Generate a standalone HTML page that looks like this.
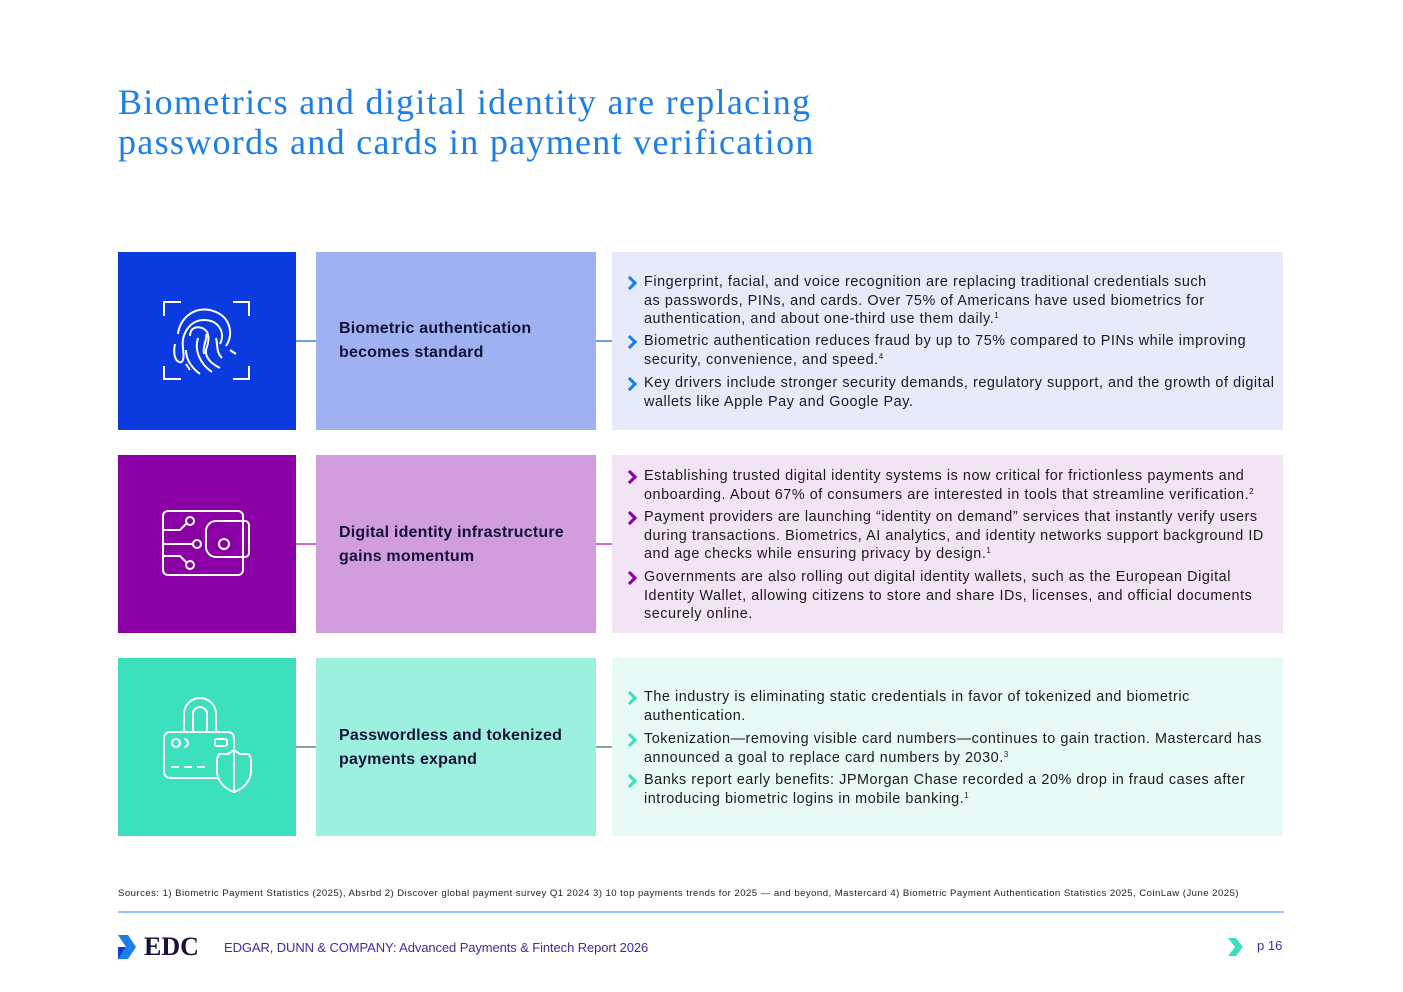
<!DOCTYPE html>
<html><head><meta charset="utf-8"><style>
*{margin:0;padding:0;box-sizing:border-box}
body{width:1403px;height:992px;background:#fff;position:relative;font-family:"Liberation Sans",sans-serif;overflow:hidden}
.t{position:absolute;left:118px;top:82px;font-family:"Liberation Serif",serif;font-size:36px;line-height:40px;color:#1a7fe8;letter-spacing:1.3px;white-space:nowrap}
.b{position:absolute}
.lab{position:absolute;font-weight:bold;font-size:16px;line-height:24px;color:#12123a;left:339px;letter-spacing:0.2px}
.ln{position:absolute;height:1.5px}
.bl{position:absolute;left:644px;font-size:14.4px;line-height:18.5px;color:#1a1a1a;white-space:nowrap;letter-spacing:0.55px}
.bl::before{content:"";position:absolute;left:-19px;top:5px;width:7px;height:7px;border-top:3px solid var(--c);border-right:3px solid var(--c);transform:rotate(45deg)}
sup{font-size:8px;vertical-align:5px;line-height:0}
</style></head><body>
<div class="t">Biometrics and digital identity are replacing<br>passwords and cards in payment verification</div>

<!-- row1 -->
<div class="b" style="left:118px;top:252px;width:178px;height:178px;background:#0b3adf"></div>
<div class="b" style="left:316px;top:252px;width:280px;height:178px;background:#9fb1f0"></div>
<div class="b" style="left:612px;top:252px;width:671px;height:178px;background:#e6eafb"></div>
<div class="ln" style="left:296px;width:20px;top:340px;background:#6aa0ee"></div>
<div class="ln" style="left:596px;width:16px;top:340px;background:#6aa0ee"></div>
<div class="lab" style="top:317px">Biometric authentication<br>becomes standard</div>
<svg class="b" style="left:160px;top:298px" width="94" height="86" viewBox="0 0 94 86" fill="none" stroke="#fff" stroke-width="2">
<path d="M4 18V4h17M73 4h16v14M4 68v13h17M73 81h16V68"/>
<path d="M18 36C20 18 38 6 56 14C70 20 74 36 66 48"/>
<path d="M15 46C13 56 15 62 19 64C24 66 24 58 23 50C21 36 30 22 44 22C58 22 66 34 60 46"/>
<path d="M30 38C30 30 36 28 42 30C52 34 48 46 46 52C45 60 52 66 60 70"/>
<path d="M38 40C34 52 40 66 52 74"/>
<path d="M46 36C48 40 42 48 44 56M56 40C58 48 56 54 62 60M26 52C26 62 32 70 40 76M26 66L30 72M70 52L76 56"/>
</svg>

<div class="bl" style="--c:#1a7fe8;top:273px">Fingerprint, facial, and voice recognition are replacing traditional credentials such<br>as passwords, PINs, and cards. Over 75% of Americans have used biometrics for<br>authentication, and about one-third use them daily.<sup>1</sup></div>
<div class="bl" style="--c:#1a7fe8;top:332px">Biometric authentication reduces fraud by up to 75% compared to PINs while improving<br>security, convenience, and speed.<sup>4</sup></div>
<div class="bl" style="--c:#1a7fe8;top:374px">Key drivers include stronger security demands, regulatory support, and the growth of digital<br>wallets like Apple Pay and Google Pay.</div>

<!-- row2 -->
<div class="b" style="left:118px;top:455px;width:178px;height:178px;background:#8a00a5"></div>
<div class="b" style="left:316px;top:455px;width:280px;height:178px;background:#d29ddd"></div>
<div class="b" style="left:612px;top:455px;width:671px;height:178px;background:#f3e4f5"></div>
<div class="ln" style="left:296px;width:20px;top:543px;background:#d36bc2"></div>
<div class="ln" style="left:596px;width:16px;top:543px;background:#d36bc2"></div>
<div class="lab" style="top:521px">Digital identity infrastructure<br>gains momentum</div>
<svg class="b" style="left:160px;top:508px" width="92" height="72" viewBox="0 0 92 72" fill="none" stroke="#fff" stroke-width="2">
<rect x="3" y="3" width="80" height="64" rx="5"/>
<path d="M83 13h2a4 4 0 0 1 4 4v28a4 4 0 0 1-4 4H56a10 10 0 0 1-10-10v-16a10 10 0 0 1 10-10h27"/>
<circle cx="64" cy="36" r="5"/>
<path d="M3 22h17l6-6M3 36h30M3 48h17l6 6"/>
<circle cx="30" cy="13" r="4"/><circle cx="37" cy="36" r="4"/><circle cx="30" cy="57" r="4"/>
</svg>
<div class="bl" style="--c:#8a00a5;top:467px">Establishing trusted digital identity systems is now critical for frictionless payments and<br>onboarding. About 67% of consumers are interested in tools that streamline verification.<sup>2</sup></div>
<div class="bl" style="--c:#8a00a5;top:508px">Payment providers are launching “identity on demand” services that instantly verify users<br>during transactions. Biometrics, AI analytics, and identity networks support background ID<br>and age checks while ensuring privacy by design.<sup>1</sup></div>
<div class="bl" style="--c:#8a00a5;top:568px">Governments are also rolling out digital identity wallets, such as the European Digital<br>Identity Wallet, allowing citizens to store and share IDs, licenses, and official documents<br>securely online.</div>

<!-- row3 -->
<div class="b" style="left:118px;top:658px;width:178px;height:178px;background:#3ce0bd"></div>
<div class="b" style="left:316px;top:658px;width:280px;height:178px;background:#9df0de"></div>
<div class="b" style="left:612px;top:658px;width:671px;height:178px;background:#e8faf6"></div>
<div class="ln" style="left:296px;width:20px;top:746px;background:#7fa6a0"></div>
<div class="ln" style="left:596px;width:16px;top:746px;background:#7fa6a0"></div>
<div class="lab" style="top:724px">Passwordless and tokenized<br>payments expand</div>
<svg class="b" style="left:160px;top:696px" width="96" height="100" viewBox="0 0 96 100" fill="none" stroke="#fff" stroke-width="2">
<path d="M24 36V18a16 16 0 0 1 32 0v18M33 36V18a7 7 0 0 1 14 0v18"/>
<path d="M74 52V42a6 6 0 0 0-6-6H10a6 6 0 0 0-6 6v34a6 6 0 0 0 6 6h48"/>
<circle cx="16" cy="47" r="4"/><path d="M24 43a4 4 0 1 1 0 8"/>
<rect x="55" y="43" width="12" height="7" rx="2"/>
<path d="M11 71h8M24 71h8M37 71h8"/>
<path d="M68 58l6-4 6 4 9 0 2 5v12c0 10-8 18-17 21-9-3-17-11-17-21V63l2-5z"/><path d="M74 54v42"/>
</svg>
<div class="bl" style="--c:#3ce0bd;top:688px">The industry is eliminating static credentials in favor of tokenized and biometric<br>authentication.</div>
<div class="bl" style="--c:#3ce0bd;top:730px">Tokenization—removing visible card numbers—continues to gain traction. Mastercard has<br>announced a goal to replace card numbers by 2030.<sup>3</sup></div>
<div class="bl" style="--c:#3ce0bd;top:771px">Banks report early benefits: JPMorgan Chase recorded a 20% drop in fraud cases after<br>introducing biometric logins in mobile banking.<sup>1</sup></div>

<div class="b" style="left:118px;top:888px;font-size:9.6px;color:#222;white-space:nowrap;letter-spacing:0.45px">Sources: 1) Biometric Payment Statistics (2025), Absrbd 2) Discover global payment survey Q1 2024 3) 10 top payments trends for 2025 — and beyond, Mastercard 4) Biometric Payment Authentication Statistics 2025, CoinLaw (June 2025)</div>
<div class="b" style="left:118px;top:911px;width:1166px;height:2px;background:#9cc4f5"></div>
<svg class="b" style="left:116px;top:933px" width="22" height="28" viewBox="0 0 22 28"><path d="M2 2l10 0 8 12-8 12H2l8-12z" fill="#1a7fe8"/><path d="M2 14l8 0-8 12z" fill="#0b3adf"/></svg>
<div class="b" style="left:144px;top:932px;font-family:'Liberation Serif',serif;font-weight:bold;font-size:26px;color:#12123a">EDC</div>
<div class="b" style="left:224px;top:940px;font-size:13px;color:#3d2fa0;letter-spacing:-0.1px">EDGAR, DUNN &amp; COMPANY: Advanced Payments &amp; Fintech Report 2026</div>
<svg class="b" style="left:1228px;top:938px" width="16" height="18" viewBox="0 0 16 18"><path d="M0 0h8l7 9-7 9H0l7-9z" fill="#3ce0bd"/></svg>
<div class="b" style="left:1257px;top:938px;font-size:13px;color:#3d2fa0">p 16</div>
</body></html>
